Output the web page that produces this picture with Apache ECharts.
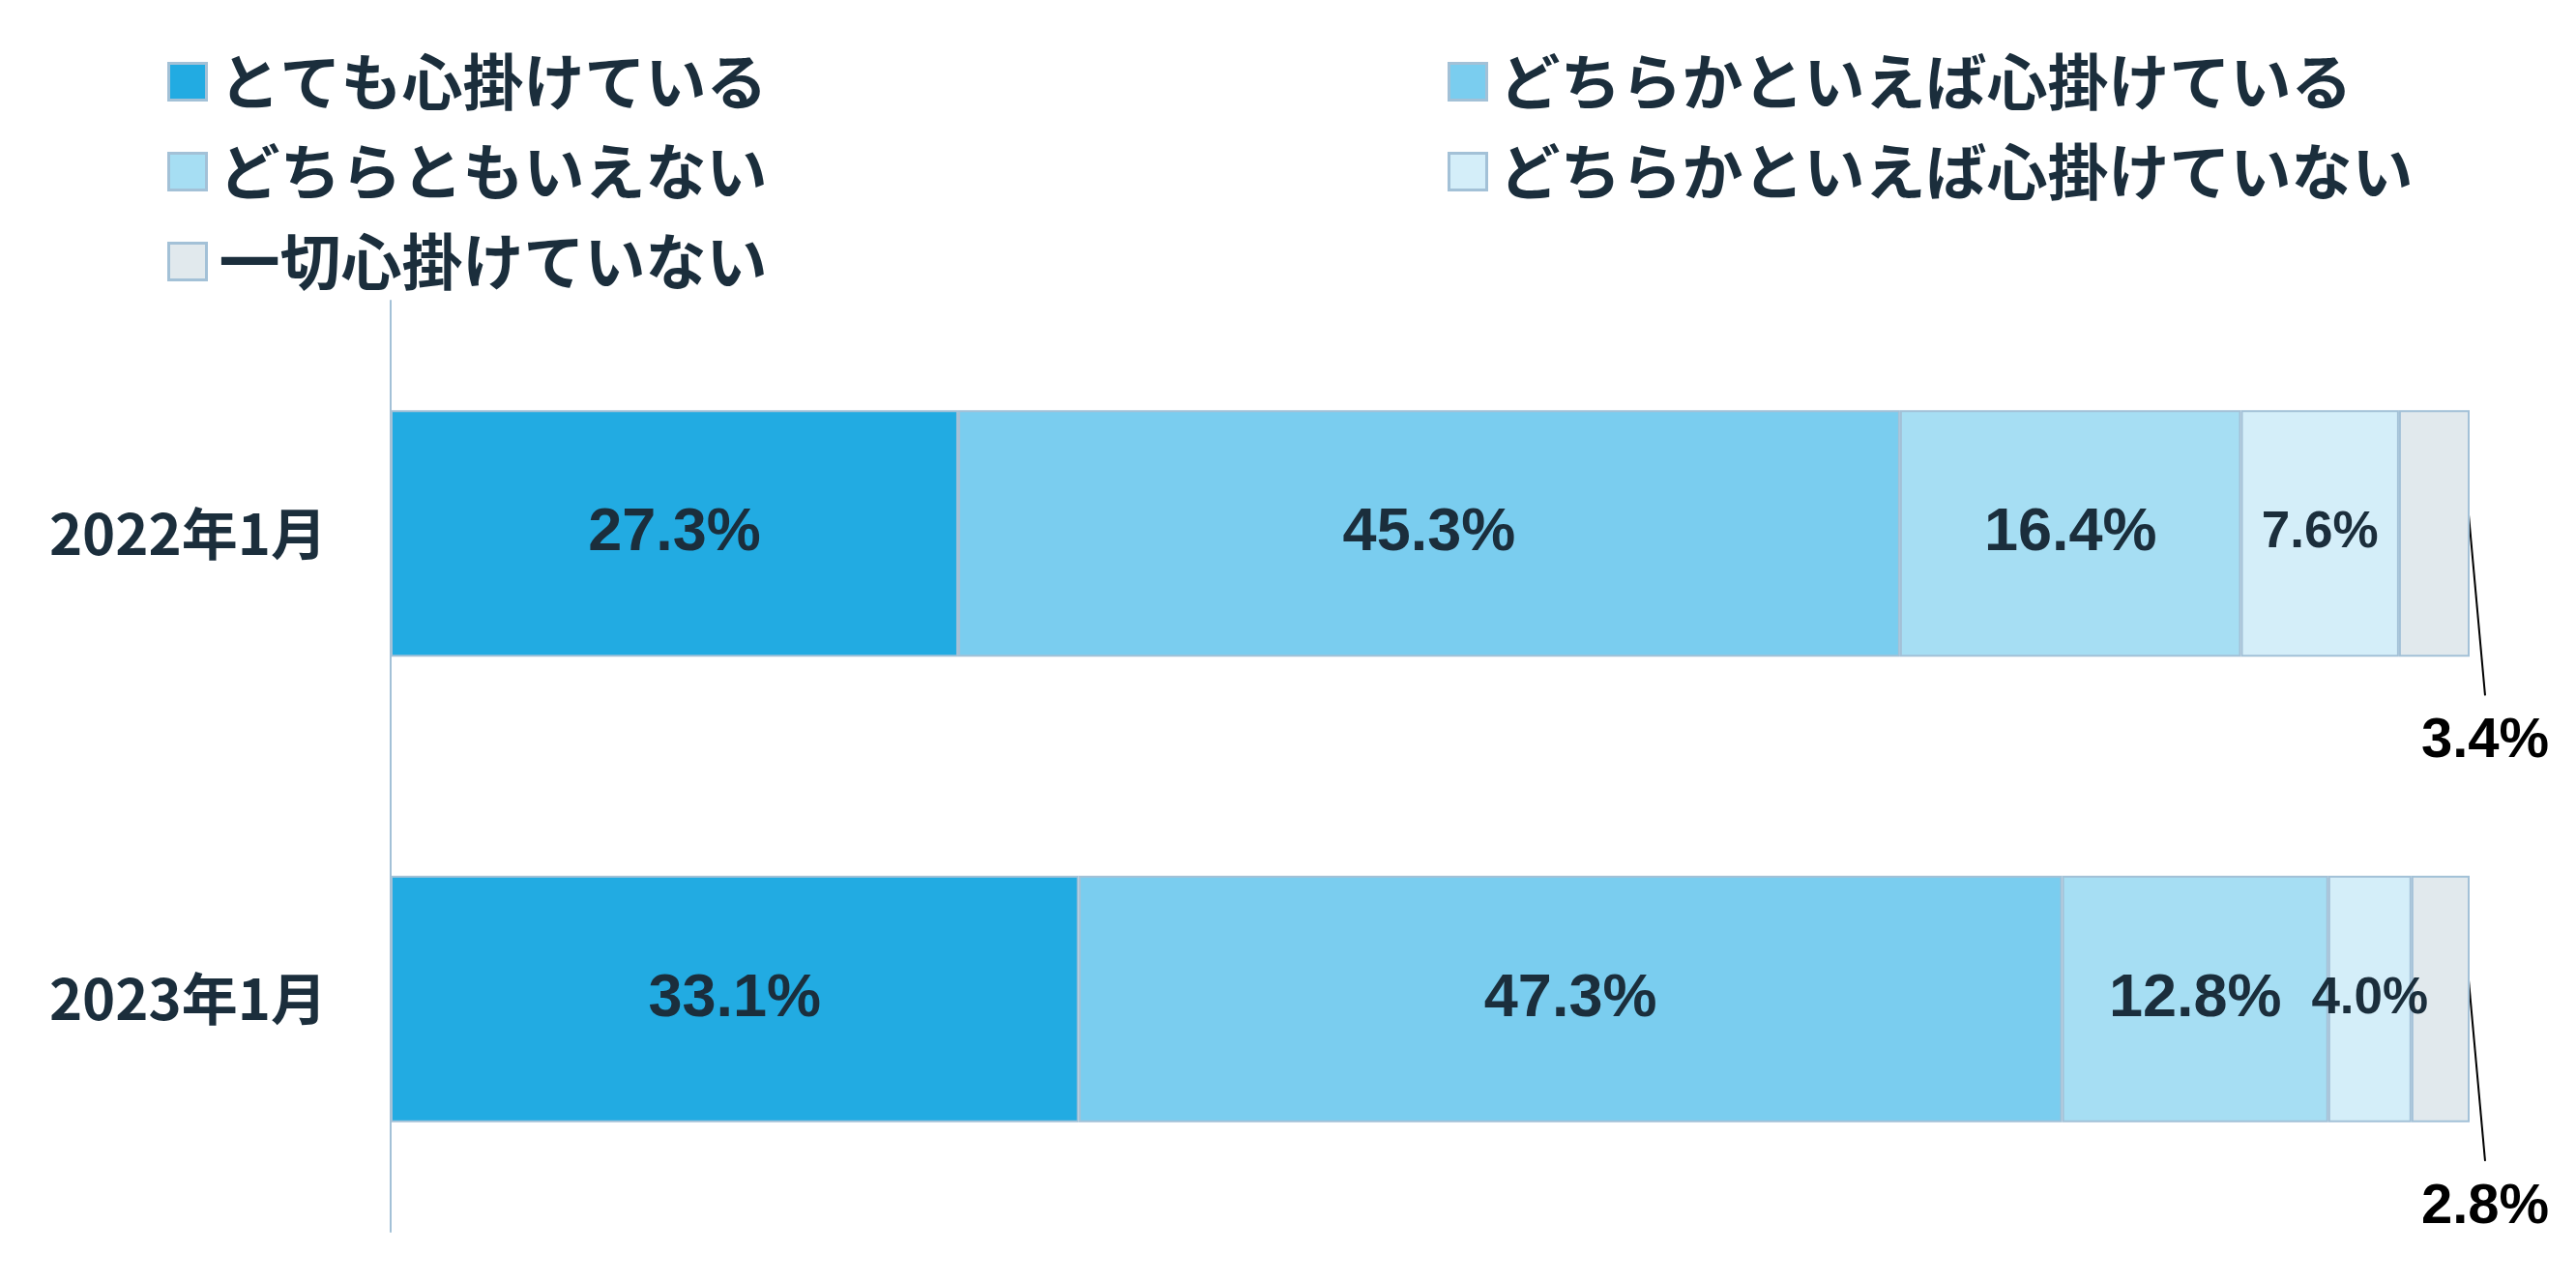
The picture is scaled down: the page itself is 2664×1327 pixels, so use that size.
<!DOCTYPE html>
<html>
<head>
<meta charset="utf-8">
<script src="https://cdn.jsdelivr.net/npm/echarts@6/dist/echarts.min.js"></script>
<style>
html, body { margin: 0; padding: 0; background: #fff; }
#chart { width: 2664px; height: 1327px; }
</style>
</head>
<body>
<div id="chart"></div>
<script>
// data
var categories = ['2022年1月', '2023年1月'];
var seriesNames = ['とても心掛けている', 'どちらかといえば心掛けている', 'どちらともいえない', 'どちらかといえば心掛けていない', '一切心掛けていない'];
var veryMuch = [27.3, 33.1];
var ratherYes = [45.3, 47.3];
var neither = [16.4, 12.8];
var ratherNo = [7.6, 4.0];
var notAtAll = [3.4, 2.8];

var colors = ['#22abe2', '#7acdef', '#a6def3', '#d4eef9', '#e1e9ed'];
var borderColor = '#a3c1d7';
var textColor = '#1b2e3c';

$init();

function $init() {
    var dom = document.getElementById('chart');
    var myChart = echarts.init(dom);
    var values = [veryMuch, ratherYes, neither, ratherNo, notAtAll];

    var series = values.map(function(arr, i) {
        var s = {
            name: seriesNames[i],
            type: 'bar',
            stack: 'total',
            barWidth: '53%',
            data: arr,
            itemStyle: {
                color: colors[i],
                borderColor: borderColor,
                borderWidth: 2
            },
            label: {
                show: true,
                position: 'inside',
                formatter: function(p) { return p.value.toFixed(1) + '%'; },
                fontFamily: 'Liberation Sans, Arial, sans-serif',
                fontWeight: 'bold',
                fontSize: i === 3 ? 53 : 63,
                color: textColor
            },
            emphasis: { disabled: true }
        };
        if (i === 4) {
            // small slice: label outside, below right
            s.label.color = '#000';
            s.label.fontSize = 58;
            s.label.lineHeight = 96;
            s.labelLayout = function(params) {
                var r = params.rect;
                return {
                    x: r.x + r.width + 16,
                    y: r.y + r.height + 88,
                    align: 'center',
                    verticalAlign: 'middle'
                };
            };
            // length2 + minTurnAngle 180 -> one straight line from the bar's right edge
            s.labelLine = {
                show: true,
                length2: 187,
                minTurnAngle: 180,
                lineStyle: { color: '#000', width: 2 }
            };
        }
        return s;
    });

    var legendText = {
        color: textColor,
        fontFamily: 'Noto Sans CJK JP',
        fontWeight: 'bold',
        fontSize: 63,
        lineHeight: 62,
        padding: [0, 0, 0, 8]
    };
    var legendIcon = { borderColor: borderColor, borderWidth: 3 };

    var option = {
        animation: false,
        legend: [{
            orient: 'vertical',
            left: 168,
            top: 48,
            icon: 'rect',
            itemWidth: 39,
            itemHeight: 38,
            itemGap: 30,
            itemStyle: legendIcon,
            textStyle: legendText,
            data: [seriesNames[0], seriesNames[2], seriesNames[4]]
        }, {
            orient: 'vertical',
            left: 1492,
            top: 48,
            icon: 'rect',
            itemWidth: 39,
            itemHeight: 38,
            itemGap: 30,
            itemStyle: legendIcon,
            textStyle: legendText,
            data: [seriesNames[1], seriesNames[3]]
        }],
        grid: {
            left: 404,
            right: 110,
            top: 311,
            bottom: 53
        },
        xAxis: {
            type: 'value',
            min: 0,
            max: 100,
            show: false
        },
        yAxis: {
            type: 'category',
            inverse: true,
            data: categories,
            axisLine: {
                show: true,
                lineStyle: { color: borderColor, width: 2 }
            },
            axisTick: { show: false },
            axisLabel: {
                margin: 66,
                color: textColor,
                fontFamily: 'Noto Sans CJK JP',
                fontWeight: 'bold',
                fontSize: 58
            }
        },
        series: series
    };

    if (option && typeof option === "object") {
        myChart.setOption(option, true);
        window.onresize = myChart.resize;
    }
}
</script>
</body>
</html>
